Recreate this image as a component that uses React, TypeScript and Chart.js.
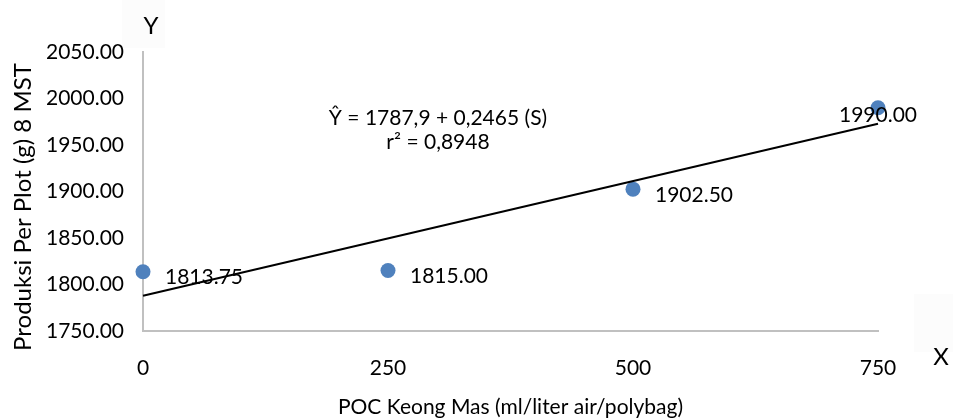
import React, { useEffect, useRef } from "react";
import { Chart, registerables } from "chart.js";

Chart.register(...registerables);

const doses = [0, 250, 500, 750];
const production = [1813.75, 1815.0, 1902.5, 1990.0];
const trendX = [0, 750];
const trendY = [1787.9, 1972.78];
const yTicks = [1750, 1800, 1850, 1900, 1950, 2000, 2050];
const xTicks = [0, 250, 500, 750];
const equationLines = ["Ŷ = 1787,9 + 0,2465 (S)", "r² = 0,8948"];
const xTitle = "POC Keong Mas (ml/liter air/polybag)";
const yTitle = "Produksi Per Plot (g) 8 MST";

const FONT = "Lato, 'Noto Sans', sans-serif";

const overlay = {
  id: "overlay",
  beforeDraw(chart: any) {
    const ctx = chart.ctx;
    ctx.save();
    ctx.fillStyle = "#fcfcfc";
    ctx.fillRect(122, 0, 43, 48);
    ctx.fillRect(914, 294, 39, 58);
    ctx.restore();
  },
  afterDatasetsDraw(chart: any) {
    const ctx = chart.ctx;
    const xs = chart.scales.x;
    ctx.save();
    ctx.fillStyle = "#000";
    ctx.font = `21px ${FONT}`;
    ctx.textBaseline = "middle";
    const meta = chart.getDatasetMeta(1);
    meta.data.forEach((pt: any, i: number) => {
      const label = production[i].toFixed(2);
      if (i === production.length - 1) {
        ctx.textAlign = "center";
        ctx.fillText(label, pt.x, pt.y + 7);
      } else {
        ctx.textAlign = "left";
        ctx.fillText(label, pt.x + 22, pt.y + 6);
      }
    });
    ctx.textAlign = "center";
    ctx.fillText(equationLines[0], 438, 118);
    ctx.fillText(equationLines[1], 438, 142);
    ctx.font = `21px ${FONT}`;
    ctx.fillText(xTitle, (xs.left + xs.right) / 2, 407);
    ctx.save();
    ctx.translate(23, 207);
    ctx.rotate(-Math.PI / 2);
    ctx.font = `24px ${FONT}`;
    ctx.fillText(yTitle, 0, 0);
    ctx.restore();
    ctx.font = `24px ${FONT}`;
    ctx.fillText("Y", 151, 26);
    ctx.fillText("X", 941, 357);
    ctx.restore();
  },
};

export default function App() {
  const ref = useRef<HTMLCanvasElement | null>(null);
  useEffect(() => {
    document.body.style.margin = "0";
    const canvas = ref.current;
    if (!canvas) return;
    const chart = new Chart(canvas, {
      type: "scatter",
      data: {
        datasets: [
          {
            type: "line",
            data: trendX.map((x, i) => ({ x, y: trendY[i] })),
            borderColor: "#000",
            borderWidth: 2,
            pointRadius: 0,
            fill: false,
            clip: false,
          } as any,
          {
            data: doses.map((x, i) => ({ x, y: production[i] })),
            backgroundColor: "#4f81bd",
            borderColor: "#4f81bd",
            pointRadius: 7.5,
            pointBorderWidth: 0,
            clip: false,
          } as any,
        ],
      },
      options: {
        animation: false,
        responsive: false,
        devicePixelRatio: 1,
        layout: { padding: { top: 52, right: 75, left: 0, bottom: 0 } },
        plugins: { legend: { display: false }, tooltip: { enabled: false } },
        scales: {
          x: {
            type: "linear",
            min: 0,
            max: 750,
            afterBuildTicks: (s: any) => {
              s.ticks = xTicks.map((v) => ({ value: v }));
            },
            afterFit: (s: any) => {
              s.height = 88;
            },
            grid: { display: false, drawTicks: false },
            border: { color: "#c0c0c0", width: 2 },
            ticks: {
              padding: 25,
              color: "#000",
              font: { family: FONT, size: 21 },
              callback: (v: any) => String(v),
            },
          },
          y: {
            type: "linear",
            min: 1750,
            max: 2050,
            afterBuildTicks: (s: any) => {
              s.ticks = yTicks.map((v) => ({ value: v }));
            },
            afterFit: (s: any) => {
              s.width = 143;
            },
            grid: { display: false, drawTicks: false },
            border: { color: "#c0c0c0", width: 2 },
            ticks: {
              padding: 19,
              color: "#000",
              font: { family: FONT, size: 21 },
              callback: (v: any) => Number(v).toFixed(2),
            },
          },
        },
      },
      plugins: [overlay],
    });
    return () => chart.destroy();
  }, []);
  return (
    <div style={{ width: 953, height: 419, background: "#fff" }}>
      <canvas ref={ref} width={953} height={419} style={{ display: "block" }} />
    </div>
  );
}
